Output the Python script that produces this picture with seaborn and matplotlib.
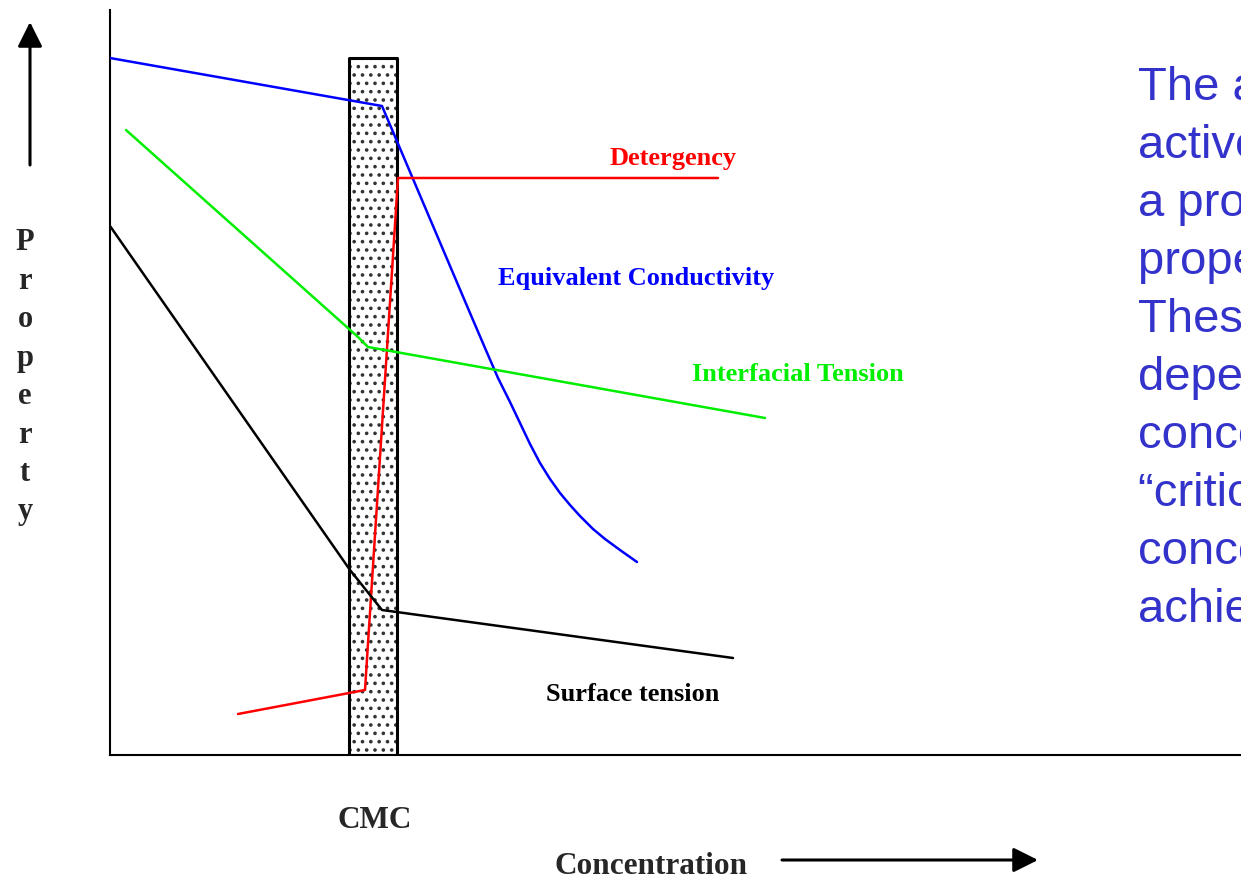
import matplotlib
matplotlib.use("Agg")
import matplotlib.pyplot as plt
import pandas as pd
import seaborn as sns

# schematic values (concentration, property) in arbitrary units
conductivity_x = [0, 272, 360, 375, 388, 400, 410, 420, 430, 440, 450, 460,
                  470, 483, 495, 510, 527]
conductivity_y = [697, 649, 442, 407, 377, 353, 332, 311, 292, 276, 262, 250,
                  239, 226, 216, 205, 193]
detergency_x = [128, 255, 288, 608]
detergency_y = [41, 65, 577, 577]
interfacial_x = [16, 248, 258, 655]
interfacial_y = [625, 418, 408, 337]
surface_x = [0, 240, 272, 623]
surface_y = [529, 185, 145, 97]
cmc_band = [239, 287]
cmc_top = 697

text_lines = [
    "The addition of surface",
    "active agents produces",
    "a pronounced change in",
    "properties of solution.",
    "These changes",
    "depend upon the",
    "concentration, and the",
    "\u201ccritical micelle",
    "concentration\u201d is",
    "achieved.",
]

sns.set_style("white")
plt.rcParams["font.family"] = ["Liberation Serif", "DejaVu Serif"]

fig = plt.figure(figsize=(12.41, 8.8), dpi=100)
ax = fig.add_axes([110 / 1241, 125 / 880, 1131 / 1241, 745 / 880])
ax.set_xlim(0, 1131)
ax.set_ylim(0, 745)
for side in ["top", "right"]:
    ax.spines[side].set_visible(False)
for side in ["left", "bottom"]:
    ax.spines[side].set_linewidth(1.5)
    ax.spines[side].set_color("black")
ax.set_xticks([])
ax.set_yticks([])

# CMC band
plt.rcParams["hatch.color"] = "#333333"
plt.rcParams["hatch.linewidth"] = 1.4
ax.fill_between(cmc_band, [0, 0], [cmc_top, cmc_top], facecolor="white",
                edgecolor="#333333", hatch="..", linewidth=0, zorder=1)
ax.fill_between(cmc_band, [0, 0], [cmc_top, cmc_top], facecolor="none",
                edgecolor="black", linewidth=2.2, zorder=2)

curves = [
    (conductivity_x, conductivity_y, "#0000ff"),
    (detergency_x, detergency_y, "#ff0000"),
    (interfacial_x, interfacial_y, "#00ee00"),
    (surface_x, surface_y, "black"),
]
for xs, ys, col in curves:
    df = pd.DataFrame({"x": xs, "y": ys})
    sns.lineplot(data=df, x="x", y="y", sort=False, estimator=None,
                 color=col, linewidth=1.8, ax=ax, zorder=3)
ax.set_xlabel("")
ax.set_ylabel("")

lab = dict(fontsize=19, fontweight="bold", ha="center", va="center")
ax.text(563, 597, "Detergency", color="#ff0000", **lab)
ax.text(526, 477, "Equivalent Conductivity", color="#0000ff", **lab)
ax.text(688, 381, "Interfacial Tension", color="#00ee00", **lab)
ax.text(523, 61, "Surface tension", color="black", **lab)

# descriptive text, cut off at the right edge
for i, line in enumerate(text_lines):
    ax.text(1028, 655 - i * 58, line, color="#3333cc", fontsize=34,
            family=["Liberation Sans", "DejaVu Sans"], ha="left",
            va="baseline", clip_on=False)

# axis captions
fig.text(375 / 1241, 1 - 820 / 880, "CMC", fontsize=22.5, fontweight="bold",
         ha="center", va="center")
fig.text(651 / 1241, 1 - 866 / 880, "Concentration", fontsize=22.5,
         fontweight="bold", ha="center", va="center")
for i, ch in enumerate("Property"):
    fig.text(25 / 1241, 1 - (243 + i * 38.4) / 880, ch, fontsize=22,
             fontweight="bold", ha="center", va="center")

arrow = dict(arrowstyle="-|>,head_width=0.75,head_length=1.5",
             color="black", lw=2.2, shrinkA=0, shrinkB=0)
ax.annotate("", xy=(30 / 1241, 1 - 22 / 880), xytext=(30 / 1241, 1 - 165 / 880),
            xycoords="figure fraction", textcoords="figure fraction",
            arrowprops=arrow)
ax.annotate("", xy=(1038 / 1241, 1 - 860 / 880), xytext=(782 / 1241, 1 - 860 / 880),
            xycoords="figure fraction", textcoords="figure fraction",
            arrowprops=arrow)

fig.savefig("out.png", dpi=100)
